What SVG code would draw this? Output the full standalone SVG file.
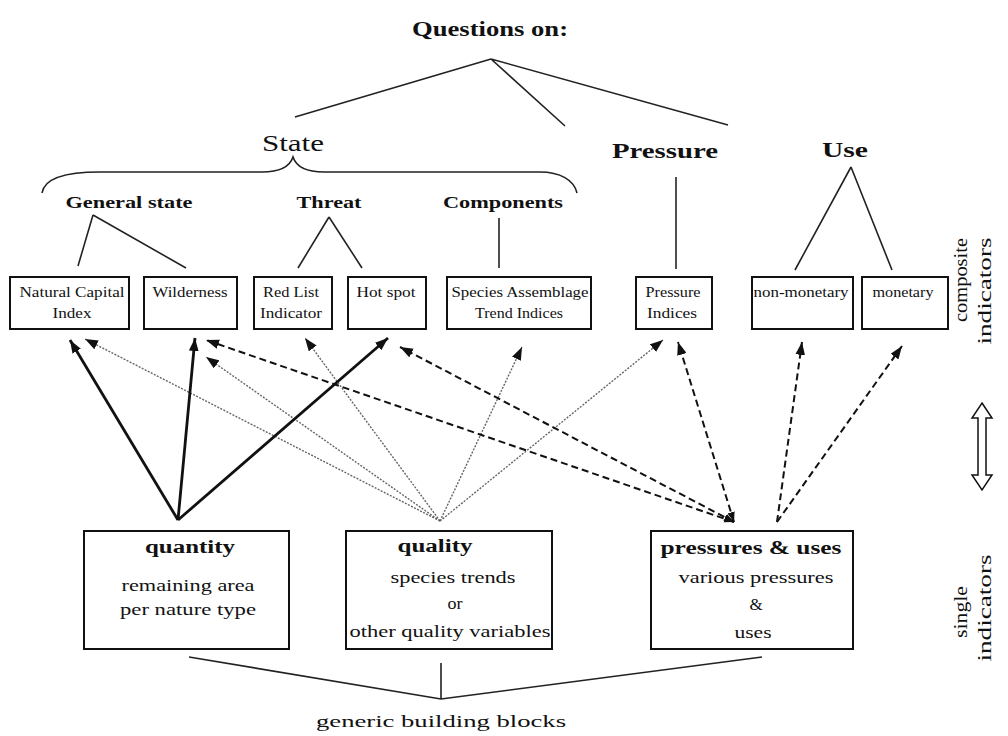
<svg xmlns="http://www.w3.org/2000/svg" width="1008" height="736" viewBox="0 0 1008 736" font-family="Liberation Serif, Times New Roman, serif">
<defs>
<style>
text{font-family:'Liberation Serif','Times New Roman',serif;fill:#111}
.b{font-weight:bold}
.box{fill:none;stroke:#111;stroke-width:2}
.tree{fill:none;stroke:#222;stroke-width:1.6}
.thick{stroke:#111;stroke-width:2.8;fill:none}
.dot{stroke:#666;stroke-width:1.4;stroke-dasharray:2 1.4;fill:none}
.dash{stroke:#111;stroke-width:2;stroke-dasharray:7 4;fill:none}
.bt{font-size:15px}
</style>
<marker id="ah" viewBox="0 0 12 9" refX="12" refY="4.5" markerWidth="13" markerHeight="10" markerUnits="userSpaceOnUse" orient="auto"><path d="M0,0 L12,4.5 L0,9 z" fill="#111"/></marker>
<marker id="ahs" viewBox="0 0 12 9" refX="12" refY="4.5" markerWidth="10" markerHeight="8" markerUnits="userSpaceOnUse" orient="auto-start-reverse"><path d="M0,0 L12,4.5 L0,9 z" fill="#111"/></marker>
</defs>
<rect width="1008" height="736" fill="#fff"/>

<g id="title"><text x="490" y="36" class="b" font-size="21" text-anchor="middle" textLength="156" lengthAdjust="spacingAndGlyphs">Questions on:</text></g>

<g id="tree-lines">
<path class="tree" d="M491,59 L295,117 M491,59 L565,126 M491,59 L728,125"/>
<path class="tree" d="M42,193 C44,180 60,172 100,172 L262,172 C280,172 290,166 293,157 C296,166 306,172 324,172 L540,172 C560,172 574,180 577,193"/>
<path class="tree" d="M93,215 L78,266 M93,215 L186,268"/>
<path class="tree" d="M329,217 L298,268 M329,217 L362,268"/>
<path class="tree" d="M499,218 L499,268"/>
<path class="tree" d="M676,177 L676,269"/>
<path class="tree" d="M851,167 L795,270 M851,167 L892,270"/>
</g>

<g id="state"><text x="293" y="151" font-size="24" text-anchor="middle" textLength="62" lengthAdjust="spacingAndGlyphs">State</text></g>
<g id="pressure"><text x="665" y="158" class="b" font-size="22" text-anchor="middle" textLength="106" lengthAdjust="spacingAndGlyphs">Pressure</text></g>
<g id="use"><text x="845" y="157" class="b" font-size="22" text-anchor="middle" textLength="46" lengthAdjust="spacingAndGlyphs">Use</text></g>
<g id="general-state"><text x="129" y="208" class="b" font-size="16" text-anchor="middle" textLength="127" lengthAdjust="spacingAndGlyphs">General state</text></g>
<g id="threat"><text x="329" y="208" class="b" font-size="16" text-anchor="middle" textLength="65" lengthAdjust="spacingAndGlyphs">Threat</text></g>
<g id="components"><text x="503" y="208" class="b" font-size="16" text-anchor="middle" textLength="120" lengthAdjust="spacingAndGlyphs">Components</text></g>

<g id="natural-capital-index"><rect class="box" x="10" y="277" width="119" height="52"/>
<text class="bt" x="72" y="297" text-anchor="middle" textLength="105" lengthAdjust="spacingAndGlyphs">Natural Capital</text>
<text class="bt" x="72" y="318" text-anchor="middle" textLength="39" lengthAdjust="spacingAndGlyphs">Index</text></g>
<g id="wilderness"><rect class="box" x="144" y="277" width="93" height="52"/>
<text class="bt" x="190" y="297" text-anchor="middle" textLength="75" lengthAdjust="spacingAndGlyphs">Wilderness</text></g>
<g id="red-list"><rect class="box" x="254" y="277" width="78" height="52"/>
<text class="bt" x="291" y="297" text-anchor="middle" textLength="56" lengthAdjust="spacingAndGlyphs">Red List</text>
<text class="bt" x="291" y="318" text-anchor="middle" textLength="62" lengthAdjust="spacingAndGlyphs">Indicator</text></g>
<g id="hot-spot"><rect class="box" x="348" y="277" width="78" height="52"/>
<text class="bt" x="386" y="297" text-anchor="middle" textLength="59" lengthAdjust="spacingAndGlyphs">Hot spot</text></g>
<g id="species-assemblage"><rect class="box" x="447" y="277" width="144" height="52"/>
<text class="bt" x="520" y="297" text-anchor="middle" textLength="137" lengthAdjust="spacingAndGlyphs">Species Assemblage</text>
<text class="bt" x="519" y="318" text-anchor="middle" textLength="88" lengthAdjust="spacingAndGlyphs">Trend Indices</text></g>
<g id="pressure-indices"><rect class="box" x="636" y="277" width="76" height="52"/>
<text class="bt" x="673" y="297" text-anchor="middle" textLength="55" lengthAdjust="spacingAndGlyphs">Pressure</text>
<text class="bt" x="672" y="318" text-anchor="middle" textLength="50" lengthAdjust="spacingAndGlyphs">Indices</text></g>
<g id="non-monetary"><rect class="box" x="752" y="277" width="101" height="52"/>
<text class="bt" x="801" y="297" text-anchor="middle" textLength="95" lengthAdjust="spacingAndGlyphs">non-monetary</text></g>
<g id="monetary"><rect class="box" x="862" y="277" width="86" height="52"/>
<text class="bt" x="903" y="297" text-anchor="middle" textLength="61" lengthAdjust="spacingAndGlyphs">monetary</text></g>

<g id="side-labels">
<text font-size="19" transform="translate(967,280) rotate(-90)" text-anchor="middle" textLength="84" lengthAdjust="spacingAndGlyphs">composite</text>
<text font-size="19" transform="translate(991,291) rotate(-90)" text-anchor="middle" textLength="107" lengthAdjust="spacingAndGlyphs">indicators</text>
<polygon points="982,403 992,418 986,418 986,475 992,475 982,490 972,475 978,475 978,418 972,418" fill="#fff" stroke="#111" stroke-width="1.5"/>
<text font-size="19" transform="translate(967,612) rotate(-90)" text-anchor="middle" textLength="52" lengthAdjust="spacingAndGlyphs">single</text>
<text font-size="19" transform="translate(991,608) rotate(-90)" text-anchor="middle" textLength="107" lengthAdjust="spacingAndGlyphs">indicators</text>
</g>

<g id="connectors">
<line class="dot" x1="440" y1="521" x2="85" y2="339" marker-end="url(#ah)"/>
<line class="dot" x1="440" y1="521" x2="206" y2="357" marker-end="url(#ah)"/>
<line class="dot" x1="440" y1="521" x2="305" y2="338" marker-end="url(#ah)"/>
<line class="dot" x1="440" y1="521" x2="522" y2="347" marker-end="url(#ah)"/>
<line class="dot" x1="440" y1="521" x2="663" y2="340" marker-end="url(#ah)"/>
<line class="dash" x1="734" y1="522" x2="206" y2="340" marker-end="url(#ah)" marker-start="url(#ahs)"/>
<line class="dash" x1="734" y1="522" x2="400" y2="347" marker-end="url(#ah)" marker-start="url(#ahs)"/>
<line class="dash" x1="734" y1="522" x2="678" y2="342" marker-end="url(#ah)" marker-start="url(#ahs)"/>
<line class="dash" x1="777" y1="522" x2="802" y2="342" marker-end="url(#ah)"/>
<line class="dash" x1="777" y1="522" x2="902" y2="346" marker-end="url(#ah)"/>
<line class="thick" x1="178" y1="520" x2="70" y2="340" marker-end="url(#ah)"/>
<line class="thick" x1="178" y1="520" x2="195" y2="338" marker-end="url(#ah)"/>
<line class="thick" x1="178" y1="520" x2="388" y2="338" marker-end="url(#ah)"/>
<path class="tree" d="M189,657 L441,699 M441,663 L441,699 M762,657 L441,699"/>
</g>

<g id="quantity"><rect class="box" x="84" y="531" width="205" height="118"/>
<text x="190" y="553" class="b" font-size="18" text-anchor="middle" textLength="90" lengthAdjust="spacingAndGlyphs">quantity</text>
<text x="188" y="591" font-size="17" text-anchor="middle" textLength="133" lengthAdjust="spacingAndGlyphs">remaining area</text>
<text x="188" y="615" font-size="17" text-anchor="middle" textLength="136" lengthAdjust="spacingAndGlyphs">per nature type</text></g>
<g id="quality"><rect class="box" x="346" y="531" width="206" height="118"/>
<text x="435" y="552" class="b" font-size="18" text-anchor="middle" textLength="75" lengthAdjust="spacingAndGlyphs">quality</text>
<text x="453" y="583" font-size="17" text-anchor="middle" textLength="125" lengthAdjust="spacingAndGlyphs">species trends</text>
<text x="455" y="609" font-size="17" text-anchor="middle" textLength="15" lengthAdjust="spacingAndGlyphs">or</text>
<text x="450" y="637" font-size="17" text-anchor="middle" textLength="201" lengthAdjust="spacingAndGlyphs">other quality variables</text></g>
<g id="pressures-uses"><rect class="box" x="651" y="531" width="202" height="118"/>
<text x="751" y="554" class="b" font-size="18" text-anchor="middle" textLength="181" lengthAdjust="spacingAndGlyphs">pressures &amp; uses</text>
<text x="756" y="583" font-size="17" text-anchor="middle" textLength="155" lengthAdjust="spacingAndGlyphs">various pressures</text>
<text x="756" y="610" font-size="17" text-anchor="middle">&amp;</text>
<text x="753" y="638" font-size="17" text-anchor="middle" textLength="37" lengthAdjust="spacingAndGlyphs">uses</text></g>
<g id="generic"><text x="441" y="727" font-size="17" text-anchor="middle" textLength="250" lengthAdjust="spacingAndGlyphs">generic building  blocks</text></g>
</svg>
